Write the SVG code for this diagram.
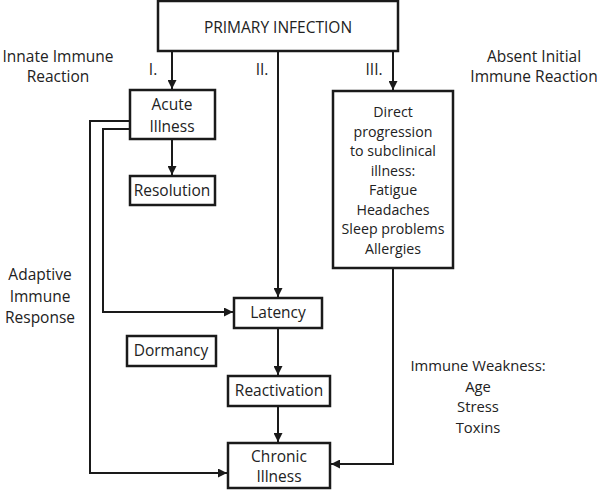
<svg xmlns="http://www.w3.org/2000/svg" width="600" height="490" viewBox="0 0 600 490">
<style>
.box{fill:#fff;stroke:#1a1a1a;stroke-width:2.5}
.ln{fill:none;stroke:#1a1a1a;stroke-width:2}
text{font-family:"Open Sans","Noto Sans",sans-serif;font-size:15.5px;fill:#222;text-anchor:middle}
.pi{font-size:15.5px}
.sm{font-size:14.2px}
.iw{font-size:14.8px}
</style>
<defs>
<marker id="ah" viewBox="0 0 10 10" refX="10" refY="5" markerWidth="4.5" markerHeight="4.5" orient="auto" markerUnits="strokeWidth">
<path d="M0,0 L10,5 L0,10 z" fill="#1a1a1a"/>
</marker>
</defs>
<rect width="600" height="490" fill="#fff"/>
<g id="connectors">
<path class="ln" d="M172,51 V89" marker-end="url(#ah)"/>
<path class="ln" d="M278,51 V297" marker-end="url(#ah)"/>
<path class="ln" d="M393,51 V90" marker-end="url(#ah)"/>
<path class="ln" d="M172,139 V175" marker-end="url(#ah)"/>
<path class="ln" d="M130,121 H90 V473 H227" marker-end="url(#ah)"/>
<path class="ln" d="M130,129 H103 V312 H233" marker-end="url(#ah)"/>
<path class="ln" d="M278,328 V375" marker-end="url(#ah)"/>
<path class="ln" d="M278,406 V442" marker-end="url(#ah)"/>
<path class="ln" d="M393,268 V464 H331" marker-end="url(#ah)"/>
</g>
<g id="primary">
<rect class="box" x="158" y="1" width="240" height="50"/>
<text class="pi" x="278" y="33">PRIMARY INFECTION</text>
</g>
<g id="acute">
<rect class="box" x="130" y="90" width="85" height="49"/>
<text x="172" y="110">Acute</text>
<text x="172" y="132">Illness</text>
</g>
<g id="resolution">
<rect class="box" x="130" y="176" width="85" height="29"/>
<text x="172" y="196">Resolution</text>
</g>
<g id="direct">
<rect class="box" x="333" y="91" width="120" height="177"/>
<text class="sm" x="393" y="117">Direct</text>
<text class="sm" x="393" y="136.5">progression</text>
<text class="sm" x="393" y="156">to subclinical</text>
<text class="sm" x="393" y="175.5">illness:</text>
<text class="sm" x="393" y="195">Fatigue</text>
<text class="sm" x="393" y="214.5">Headaches</text>
<text class="sm" x="393" y="234">Sleep problems</text>
<text class="sm" x="393" y="253.5">Allergies</text>
</g>
<g id="latency">
<rect class="box" x="234" y="298" width="88" height="30"/>
<text x="278" y="318">Latency</text>
</g>
<g id="dormancy">
<rect class="box" x="127" y="336" width="89" height="30"/>
<text x="171" y="356">Dormancy</text>
</g>
<g id="reactivation">
<rect class="box" x="228" y="376" width="102" height="30"/>
<text x="279" y="396">Reactivation</text>
</g>
<g id="chronic">
<rect class="box" x="228" y="443" width="102" height="45"/>
<text x="279" y="462">Chronic</text>
<text x="279" y="482">Illness</text>
</g>
<g id="labels">
<text x="58" y="62">Innate Immune</text>
<text x="58" y="82">Reaction</text>
<text x="153" y="75">I.</text>
<text x="262" y="75">II.</text>
<text x="374" y="75">III.</text>
<text x="534" y="62">Absent Initial</text>
<text x="534" y="82">Immune Reaction</text>
<text x="40" y="280">Adaptive</text>
<text x="40" y="302">Immune</text>
<text x="40" y="323">Response</text>
<text class="iw" x="478" y="371">Immune Weakness:</text>
<text class="iw" x="478" y="391.5">Age</text>
<text class="iw" x="478" y="412">Stress</text>
<text class="iw" x="478" y="432.5">Toxins</text>
</g>
</svg>
